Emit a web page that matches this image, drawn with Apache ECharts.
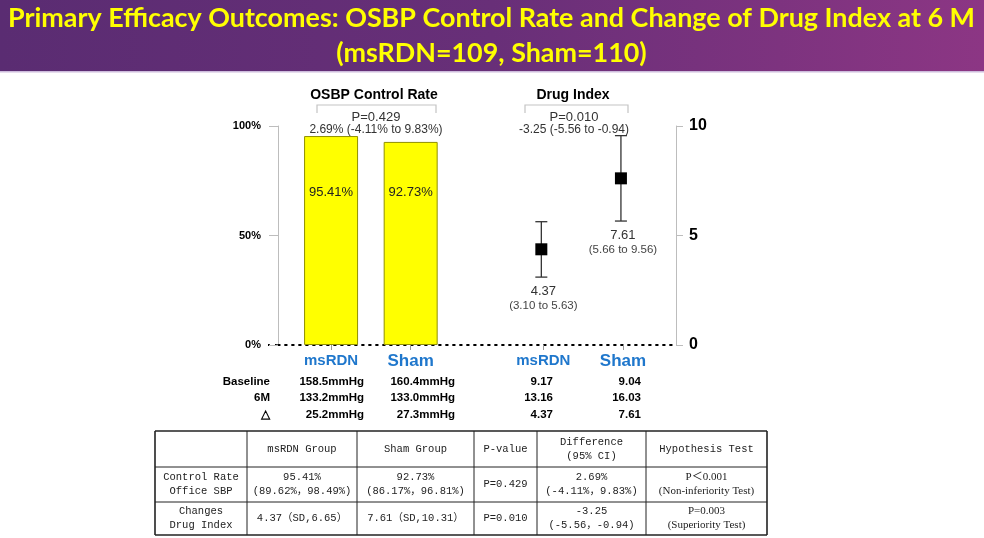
<html>
<head>
<meta charset="utf-8">
<script src="https://cdn.jsdelivr.net/npm/echarts@6/dist/echarts.min.js"></script>
<style>
  html, body { margin: 0; padding: 0; background: #fff; }
  #chart-main { width: 984px; height: 538px; }
</style>
</head>
<body>
<div id="chart-main"></div>
<script type="text/javascript">
	// 数据
	var titleLines = ['Primary Efficacy Outcomes: OSBP Control Rate and Change of Drug Index at 6 M', '(msRDN=109, Sham=110)'];
	var groups = ['msRDN', 'Sham'];
	var controlRate = [95.41, 92.73];
	var drugMean = [4.37, 7.61];
	var drugLow = [3.10, 5.66];
	var drugHigh = [5.63, 9.56];
	var rateTicks = [0, 50, 100];
	var drugTicks = [0, 5, 10];

	var rateP = 'P=0.429', rateDiff = '2.69% (-4.11% to 9.83%)';
	var drugP = 'P=0.010', drugDiff = '-3.25 (-5.56 to -0.94)';

	var rowLabels = ['Baseline', '6M', '△'];
	var sbpMsRDN = [158.5, 133.2, 25.2];
	var sbpSham = [160.4, 133.0, 27.3];
	var drugMsRDN = [9.17, 13.16, 4.37];
	var drugSham = [9.04, 16.03, 7.61];

	var tableHead = ['', 'msRDN Group', 'Sham Group', 'P-value', 'Difference\n(95% CI)', 'Hypothesis Test'];
	var tableRate = ['Control Rate\nOffice SBP', '95.41%\n(89.62%，98.49%)', '92.73%\n(86.17%，96.81%)', 'P=0.429', '2.69%\n(-4.11%，9.83%)', 'P＜0.001\n(Non-inferiority Test)'];
	var tableDrug = ['Changes\nDrug Index', '4.37（SD,6.65）', '7.61（SD,10.31）', 'P=0.010', '-3.25\n(-5.56，-0.94)', 'P=0.003\n(Superiority Test)'];

	// 版面
	var slotCount = 16, barSlots = [2, 5], errSlots = [10, 13];
	var tableCols = [155, 247, 357, 474, 537, 646, 767];
	var tableRows = [431, 467, 502, 535];

	var slotNames = [];
	for (var i = 0; i < slotCount; i++) slotNames.push('');
	var barData = slotNames.map(function () { return '-'; });
	barSlots.forEach(function (s, i) {
		slotNames[s] = { value: groups[i], textStyle: { fontSize: i ? 17 : 15 } };
		barData[s] = controlRate[i];
	});
	errSlots.forEach(function (s, i) {
		slotNames[s] = { value: groups[i], textStyle: { fontSize: i ? 17 : 15 } };
	});
	var errData = groups.map(function (g, i) {
		return [errSlots[i], drugMean[i], drugLow[i], drugHigh[i]];
	});

	// 标题宽度
	var ctx = document.createElement('canvas').getContext('2d');
	ctx.font = 'bold 27px Lato';
	var titleScale = 967 / ctx.measureText(titleLines[0]).width;

	var graphics = [
		{ type: 'rect', shape: { x: 0, y: 0, width: 984, height: 71 },
		  style: { fill: new echarts.graphic.LinearGradient(0, 0, 1, 0, [
			{ offset: 0, color: '#5a2c72' }, { offset: 0.5, color: '#682f78' }, { offset: 1, color: '#8c3684' }]) } },
		{ type: 'rect', shape: { x: 0, y: 71, width: 984, height: 1.5 }, style: { fill: '#cdbcdc' } },
		// 0% 处虚线向左延伸到刻度
		{ type: 'line', shape: { x1: 268, y1: 345, x2: 278, y2: 345 },
		  style: { stroke: '#000', lineWidth: 1.8, lineDash: [1.8, 5.2] } }
	];
	titleLines.forEach(function (t, i) {
		graphics.push({ type: 'text', x: 491.5, y: 18 + i * 35, scaleX: titleScale,
			style: { text: t, align: 'center', verticalAlign: 'middle', fill: '#ffff00',
				font: 'bold 27px Lato' } });
	});

	function header(text, x) {
		graphics.push({ type: 'text', x: x, y: 95, style: { text: text, align: 'center', verticalAlign: 'middle',
			font: 'bold 14px "Liberation Sans"', fill: '#000' } });
	}
	function bracket(x1, x2, p, diff, cx) {
		graphics.push({ type: 'polyline', shape: { points: [[x1, 113], [x1, 105], [x2, 105], [x2, 113]] },
			style: { stroke: '#c4c4c4', lineWidth: 1.2, fill: null } });
		graphics.push({ type: 'text', x: cx, y: 117, style: { text: p, align: 'center', verticalAlign: 'middle',
			font: '13px "Liberation Sans"', fill: '#333' } });
		graphics.push({ type: 'text', x: cx, y: 130, style: { text: diff, align: 'center', verticalAlign: 'middle',
			font: '12px "Liberation Sans"', fill: '#333' } });
	}
	header('OSBP Control Rate', 374);
	header('Drug Index', 573);
	bracket(317, 436, rateP, rateDiff, 376);
	bracket(525, 628, drugP, drugDiff, 574);

	// 基线表
	var colRight = [364, 455, 553, 641];
	var rowY = [381.5, 398, 414.5];
	rowLabels.forEach(function (lab, r) {
		var cells = [sbpMsRDN[r].toFixed(1) + 'mmHg', sbpSham[r].toFixed(1) + 'mmHg',
			drugMsRDN[r].toFixed(2), drugSham[r].toFixed(2)];
		graphics.push({ type: 'text', x: 270, y: rowY[r], style: { text: lab, align: 'right', verticalAlign: 'middle',
			font: 'bold 11.5px "Liberation Sans"', fill: '#000' } });
		cells.forEach(function (c, k) {
			graphics.push({ type: 'text', x: colRight[k], y: rowY[r], style: { text: c, align: 'right',
				verticalAlign: 'middle', font: 'bold 11.5px "Liberation Sans"', fill: '#000' } });
		});
	});

	// 结果表
	tableRows.forEach(function (y, k) {
		var outer = k === 0 || k === tableRows.length - 1;
		graphics.push({ type: 'line', shape: { x1: tableCols[0], y1: y, x2: tableCols[tableCols.length - 1], y2: y },
			style: { stroke: '#222', lineWidth: outer ? 1.6 : 1 } });
	});
	tableCols.forEach(function (x, k) {
		var outer = k === 0 || k === tableCols.length - 1;
		graphics.push({ type: 'line', shape: { x1: x, y1: tableRows[0], x2: x, y2: tableRows[tableRows.length - 1] },
			style: { stroke: '#222', lineWidth: outer ? 1.6 : 1 } });
	});
	[tableHead, tableRate, tableDrug].forEach(function (row, r) {
		row.forEach(function (cell, c) {
			graphics.push({ type: 'text', x: (tableCols[c] + tableCols[c + 1]) / 2, y: (tableRows[r] + tableRows[r + 1]) / 2,
				style: { text: cell, align: 'center', verticalAlign: 'middle', lineHeight: 14, fill: '#222',
					font: (c === 5 && r > 0 ? '11px "Liberation Serif", "Noto Sans CJK SC"' : '10.5px "Liberation Mono", "Noto Sans CJK SC"') } });
		});
	});

	function renderErr(params, api) {
		var x = api.value(0);
		var pm = api.coord([x, api.value(1)]);
		var pl = api.coord([x, api.value(2)]);
		var ph = api.coord([x, api.value(3)]);
		var cx = pm[0] - 2, cap = 6, sq = 12;
		var ls = { stroke: '#333', lineWidth: 1.3 };
		return { type: 'group', children: [
			{ type: 'line', shape: { x1: cx, y1: pl[1], x2: cx, y2: ph[1] }, style: ls },
			{ type: 'line', shape: { x1: cx - cap, y1: pl[1], x2: cx + cap, y2: pl[1] }, style: ls },
			{ type: 'line', shape: { x1: cx - cap, y1: ph[1], x2: cx + cap, y2: ph[1] }, style: ls },
			{ type: 'rect', shape: { x: cx - sq / 2, y: pm[1] - sq / 2, width: sq, height: sq }, style: { fill: '#000' } },
			{ type: 'text', x: cx + 2, y: pl[1] + 14, style: { text: api.value(1).toFixed(2), align: 'center',
				verticalAlign: 'middle', font: '13px "Liberation Sans"', fill: '#333' } },
			{ type: 'text', x: cx + 2, y: pl[1] + 29, style: { text: '(' + api.value(2).toFixed(2) + ' to ' + api.value(3).toFixed(2) + ')',
				align: 'center', verticalAlign: 'middle', font: '11.5px "Liberation Sans"', fill: '#444' } }
		] };
	}

	var myChart = echarts.init(document.getElementById('chart-main'));
	var option = {
		animation: false,
		textStyle: { fontFamily: 'Liberation Sans' },
		grid: { left: 278, right: 308, top: 126, bottom: 193 },
		xAxis: {
			type: 'category',
			data: slotNames,
			boundaryGap: false,
			axisLine: { lineStyle: { color: '#000', width: 1.8, type: [1.8, 5.2] } },
			axisTick: { length: 5, lineStyle: { color: '#999' },
				interval: function (idx, val) { return val !== ''; } },
			axisLabel: { interval: 0, margin: 8, color: '#1f77cc', fontWeight: 'bold', fontSize: 15 }
		},
		yAxis: [
			{ type: 'value', position: 'left', min: rateTicks[0], max: rateTicks[2], interval: rateTicks[1],
			  axisLine: { show: true, lineStyle: { color: '#bdbdbd' } },
			  axisTick: { show: true, length: 9, lineStyle: { color: '#bdbdbd' } },
			  axisLabel: { formatter: '{value}%', margin: 17, color: '#000', fontWeight: 'bold', fontSize: 11 },
			  splitLine: { show: false } },
			{ type: 'value', position: 'right', min: drugTicks[0], max: drugTicks[2], interval: drugTicks[1],
			  axisLine: { show: true, lineStyle: { color: '#bdbdbd' } },
			  axisTick: { show: true, length: 7, lineStyle: { color: '#bdbdbd' } },
			  axisLabel: { margin: 13, color: '#000', fontWeight: 'bold', fontSize: 16 },
			  splitLine: { show: false } }
		],
		series: [
			{
				name: 'OSBP Control Rate',
				type: 'bar',
				yAxisIndex: 0,
				barWidth: 54,
				data: barData,
				itemStyle: { color: '#ffff00', borderColor: '#8f8f00', borderWidth: 1 },
				label: { show: true, position: 'inside', color: '#222', fontSize: 13,
					formatter: function (p) { return p.value.toFixed(2) + '%'; } },
				labelLayout: { y: 192, align: 'center', verticalAlign: 'middle' }
			},
			{
				name: 'Drug Index',
				type: 'custom',
				yAxisIndex: 1,
				clip: false,
				renderItem: renderErr,
				encode: { x: 0, y: 1 },
				data: errData
			}
		],
		graphic: graphics
	};
	myChart.setOption(option);
</script>
</body>
</html>
